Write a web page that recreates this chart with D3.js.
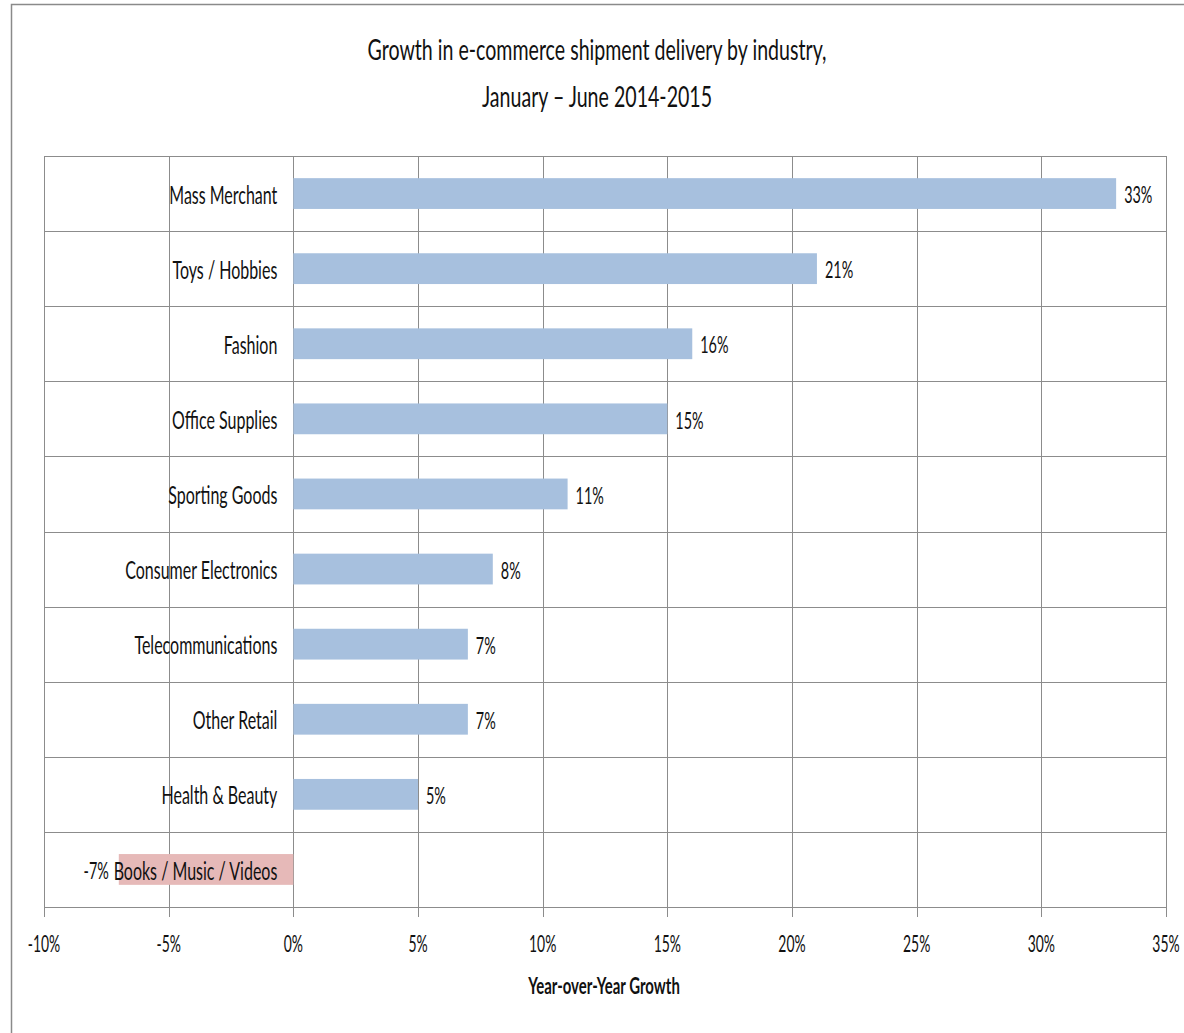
<!DOCTYPE html>
<html>
<head>
<meta charset="utf-8">
<script src="https://cdn.jsdelivr.net/npm/d3@7"></script>
<style>
  html, body { margin: 0; padding: 0; background: #fff; }
  svg { display: block; }
  text { font-family: Lato, "Noto Sans", sans-serif; fill: #111; }
</style>
</head>
<body>
<svg id="chart" width="1184" height="1033"></svg>
<script>
// Year-over-year growth, Jan–Jun 2014 vs 2015
const categories = [
  "Mass Merchant", "Toys / Hobbies", "Fashion", "Office Supplies",
  "Sporting Goods", "Consumer Electronics", "Telecommunications",
  "Other Retail", "Health & Beauty", "Books / Music / Videos"
];
const growth = [0.33, 0.21, 0.16, 0.15, 0.11, 0.08, 0.07, 0.07, 0.05, -0.07];
const tickValues = [-0.10, -0.05, 0, 0.05, 0.10, 0.15, 0.20, 0.25, 0.30, 0.35];
const titleLines = ["Growth in e-commerce shipment delivery by industry,", "January \u2013 June 2014-2015"];
const axisTitle = "Year-over-Year Growth";

const svg = d3.select("#chart");
const plot = { left: 44, right: 1166, top: 156, bottom: 907 };

const x = d3.scaleLinear().domain([-0.10, 0.35]).range([plot.left, plot.right]);
const y = d3.scaleBand().domain(categories)
  .range([plot.top, plot.bottom])
  .paddingInner(0.59).paddingOuter(0.295);
// plain hyphen for negatives
const pct = d3.formatLocale({ decimal: ".", thousands: ",", grouping: [3], currency: ["", ""], minus: "-" }).format(".0%");

// condensed text: horizontally squeezed glyphs
function label(parent, px, py, str, opt) {
  return parent.append("text")
    .attr("transform", `translate(${px},${py}) scale(${opt.sx},1)`)
    .attr("text-anchor", opt.anchor || "start")
    .attr("dominant-baseline", opt.baseline || "auto")
    .style("font-size", opt.size + "px")
    .style("font-weight", opt.weight || 400)
    .text(str);
}

// outer chart frame
svg.append("path")
  .attr("d", "M11.5,1033 V4.5 H1184")
  .attr("fill", "none").attr("stroke", "#8a8a8a").attr("stroke-width", 1.5);

// title
titleLines.forEach((t, i) => {
  label(svg, 597, 60 + i * 47, t, { sx: 0.70, size: 28, anchor: "middle" });
});

// row separators
const step = y.step();
const rowLines = d3.range(categories.length + 1).map(i => plot.top + i * step);
svg.append("g").selectAll("line").data(rowLines).join("line")
  .attr("x1", plot.left).attr("x2", plot.right)
  .attr("y1", d => Math.round(d) + 0.5).attr("y2", d => Math.round(d) + 0.5)
  .attr("stroke", "#8c8c8c").attr("stroke-width", 1);

// vertical gridlines with tick marks below the plot
svg.append("g").selectAll("line").data(tickValues).join("line")
  .attr("x1", d => Math.round(x(d)) + 0.5).attr("x2", d => Math.round(x(d)) + 0.5)
  .attr("y1", plot.top).attr("y2", plot.bottom + 10)
  .attr("stroke", "#8c8c8c").attr("stroke-width", 1);

// bars
const data = categories.map((c, i) => ({ cat: c, v: growth[i] }));
svg.append("g").selectAll("rect").data(data).join("rect")
  .attr("x", d => x(Math.min(0, d.v)))
  .attr("width", d => Math.abs(x(d.v) - x(0)))
  .attr("y", d => y(d.cat))
  .attr("height", y.bandwidth())
  .attr("fill", d => d.v < 0 ? "#e6b9b8" : "#a7c0de");

// category labels, right-aligned just left of zero
const gCat = svg.append("g");
data.forEach(d => {
  label(gCat, x(0) - 16, y(d.cat) + y.bandwidth() / 2, d.cat,
    { sx: 0.64, size: 25, anchor: "end", baseline: "central" });
});

// value labels
const gVal = svg.append("g");
data.forEach(d => {
  const pos = d.v >= 0;
  label(gVal, x(d.v) + (pos ? 8 : -10), y(d.cat) + y.bandwidth() / 2, pct(d.v),
    { sx: 0.6, size: 24, anchor: pos ? "start" : "end", baseline: "central" });
});

// x axis tick labels
const gAxis = svg.append("g");
tickValues.forEach(t => {
  label(gAxis, x(t), 952, pct(t), { sx: 0.58, size: 24, anchor: "middle" });
});

// axis title
label(svg, 604, 994, axisTitle, { sx: 0.68, size: 22, weight: 700, anchor: "middle" });
</script>
</body>
</html>
